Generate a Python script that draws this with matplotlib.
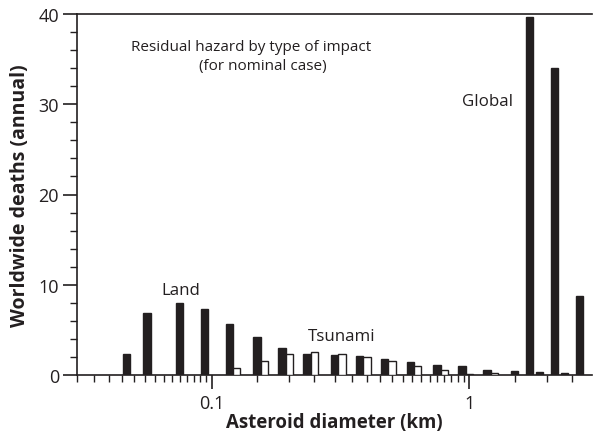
import numpy as np
import matplotlib
matplotlib.use("Agg")
import matplotlib.pyplot as plt
from matplotlib.ticker import LogLocator, FixedLocator, FixedFormatter, NullFormatter, MultipleLocator

plt.rcParams['font.family'] = ['Open Sans', 'DejaVu Sans']

# Size bins (km) and residual annual deaths by impact type
diameter_km = [0.05, 0.06, 0.08, 0.10, 0.125, 0.16, 0.20, 0.25, 0.32,
               0.40, 0.50, 0.63, 0.80, 1.00, 1.25, 1.60, 2.00, 2.50]
land_deaths = [2.3, 6.9, 8.0, 7.3, 5.6, 4.2, 3.0, 2.3, 2.2,
               2.15, 1.8, 1.4, 1.15, 0.95, 0.5, 0.4, 0.37, 0.2]
tsunami_deaths = [0, 0, 0, 0, 0.8, 1.5, 2.3, 2.5, 2.3,
                  1.95, 1.6, 1.05, 0.6, 0.15, 0.2, 0, 0, 0]
global_deaths = [0, 0, 0, 0, 0, 0, 0, 0, 0,
                 0, 0, 0, 0, 0, 0, 39.7, 34.0, 8.8]

ink = '#231f20'

fig = plt.figure(figsize=(5.93, 4.35), dpi=100)
ax = fig.add_axes([77 / 593, 59 / 435, 515 / 593, 361 / 435])
ax.set_xscale('log')

# three bars per bin, side by side in log space: land, tsunami, global
w = 0.0290  # bar width in decades
logd = np.log10(diameter_km)


def draw(values, offset, face):
    lo = 10 ** (logd + offset - w / 2)
    hi = 10 ** (logd + offset + w / 2)
    vals = np.asarray(values, dtype=float)
    keep = vals > 0
    ax.bar(lo[keep], vals[keep], width=(hi - lo)[keep], align='edge',
           color=face, edgecolor=ink, linewidth=1.0, zorder=3)


draw(land_deaths, -w, ink)
draw(tsunami_deaths, 0.0, 'white')
draw(global_deaths, w, ink)

ax.set_xlim(0.03, 2.99)
ax.set_ylim(0, 40)

ax.spines['right'].set_visible(False)
for s in ('left', 'bottom', 'top'):
    ax.spines[s].set_linewidth(1.2)
    ax.spines[s].set_color(ink)

ax.xaxis.set_major_locator(FixedLocator([0.1, 1]))
ax.xaxis.set_major_formatter(FixedFormatter(['0.1', '1']))
ax.xaxis.set_minor_locator(LogLocator(base=10, subs=np.arange(1.5, 10, 0.5), numticks=20))
ax.xaxis.set_minor_formatter(NullFormatter())
ax.yaxis.set_major_locator(MultipleLocator(10))
ax.yaxis.set_minor_locator(MultipleLocator(2))

ax.tick_params(which='major', direction='out', length=10, width=1.2, color=ink,
               labelsize=13, pad=3, labelcolor=ink)
ax.tick_params(which='minor', direction='out', length=5, width=1.0, color=ink)
ax.tick_params(axis='x', which='both', top=False)
ax.tick_params(axis='x', which='major', pad=4)

ax.set_xlabel('Asteroid diameter (km)', fontsize=13.4, fontweight='bold', color=ink, labelpad=0)
ax.set_ylabel('Worldwide deaths (annual)', fontsize=14, fontweight='bold', color=ink, labelpad=6)

ax.text(0.1426, 36.04, 'Residual hazard by type of impact', ha='center', va='baseline',
        fontsize=11, color=ink)
ax.text(0.158, 33.9, '(for nominal case)', ha='center', va='baseline', fontsize=11, color=ink)
ax.text(1.177, 29.95, 'Global', ha='center', va='baseline', fontsize=12.2, color=ink)
ax.text(0.0759, 8.97, 'Land', ha='center', va='baseline', fontsize=12.2, color=ink)
ax.text(0.319, 3.91, 'Tsunami', ha='center', va='baseline', fontsize=12.2, color=ink)

fig.savefig('out.png', dpi=100)
